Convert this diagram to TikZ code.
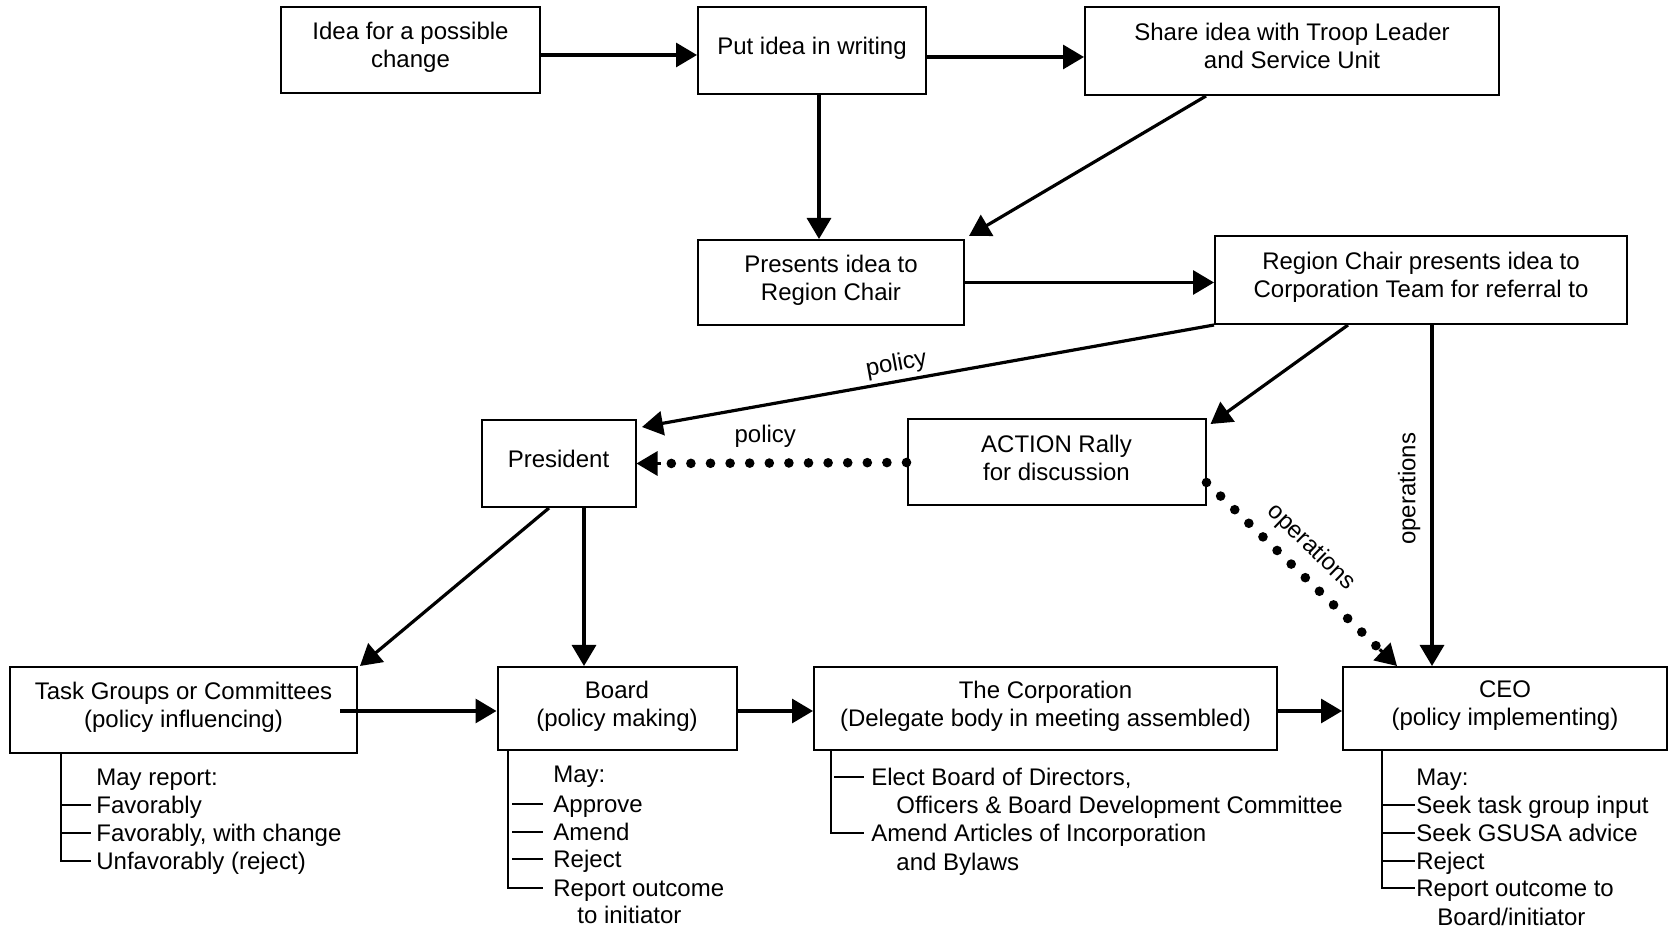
\documentclass[tikz,border=0pt]{standalone}
\usepackage{fontspec}
\setmainfont{Liberation Sans}
\usetikzlibrary{arrows.meta,calc}
\begin{document}
\begin{tikzpicture}[x=0.5pt,y=-0.5pt,
  box/.style={draw, line width=1pt, align=center, inner sep=2pt, text depth=5pt, font=\fontsize{12}{14}\selectfont},
  arr/.style={line width=1.6pt, -{Triangle[length=10.5pt,width=12pt]}},
  dotln/.style={line width=4.8pt, line cap=round, dash pattern=on 0pt off 9.8pt},
  lbl/.style={font=\fontsize{12}{14}\selectfont, inner sep=2pt},
  item/.style={font=\fontsize{12}{14}\selectfont, anchor=base west, inner sep=0pt},
  tree/.style={line width=1pt}
]
\useasboundingbox (0,0) rectangle (1670,929);

% boxes
\node[box, minimum width=129.5pt, minimum height=43pt] (idea) at (410.5,50) {Idea for a possible\\change};
\node[box, minimum width=114pt, minimum height=43.5pt] (write) at (812,50.5) {Put idea in writing};
\node[box, minimum width=207pt, minimum height=44pt] (share) at (1292,51) {Share idea with Troop Leader\\and Service Unit};
\node[box, minimum width=133pt, minimum height=42.5pt] (present) at (831,282.5) {Presents idea to\\Region Chair};
\node[box, minimum width=206pt, minimum height=44pt] (region) at (1421,280) {Region Chair presents idea to\\Corporation Team for referral to};
\node[box, minimum width=77pt, minimum height=43.5pt] (pres) at (558.5,463.5) {President};
\node[box, minimum width=149pt, minimum height=43pt] (action) at (1056.5,462.5) {ACTION Rally\\for discussion};
\node[box, minimum width=173.5pt, minimum height=43pt] (task) at (183.5,710) {Task Groups or Committees\\(policy influencing)};
\node[box, minimum width=119.5pt, minimum height=41.5pt] (board) at (617,708.5) {Board\\(policy making)};
\node[box, minimum width=231.5pt, minimum height=41.5pt] (corp) at (1045.5,708.5) {The Corporation\\(Delegate body in meeting assembled)};
\node[box, minimum width=162pt, minimum height=41.5pt] (ceo) at (1505,708.5) {CEO\\(policy implementing)};

% top connectors
\coordinate (a1) at ([yshift=-2.5pt]idea.east);
\draw[arr] (a1) -- (a1 -| write.west);
\coordinate (a2) at ([yshift=-3.25pt]write.east);
\draw[arr] (a2) -- (a2 -| share.west);
\draw[arr] (write.south -| 819,0) -- (present.north -| 819,0);
\draw[arr] (share.south -| 1206,0) -- ([xshift=2pt,yshift=1.5pt]present.north east);
\draw[arr] (present.east) -- (present.east -| region.west);

% from region chair
\draw[arr] (region.south west) -- node[lbl, pos=0.55, rotate=10.3, anchor=south] {policy} ([xshift=2.75pt,yshift=-4pt]pres.north east);
\draw[arr] (region.south -| 1348,0) -- ([xshift=2pt,yshift=-2.75pt]action.north east);
\draw[arr] (region.south -| 1432,0) -- node[lbl, pos=0.48, rotate=90, anchor=south, inner sep=5pt] {operations} (ceo.north -| 1432,0);

% dotted from action rally
\coordinate (d1) at ([xshift=12pt]pres.east);
\draw[dotln] (action.west) -- node[lbl, pos=0.574, anchor=south, yshift=3.5pt] {policy} (d1);
\draw[arr] (d1) -- (pres.east);
\coordinate (d2) at ([yshift=-10pt]action.east);
\coordinate (c2) at (ceo.north -| 1397,0);
\coordinate (d3) at ($(c2)!12pt!(d2)$);
\draw[dotln] (d2) -- node[lbl, pos=0.5, rotate=-44, anchor=south, inner sep=5pt] {operations} (d3);
\draw[arr] (d3) -- (c2);

% from president
\draw[arr] (pres.south -| 549,0) -- ([xshift=1pt]task.north east);
\draw[arr] (pres.south -| 584,0) -- (board.north -| 584,0);

% bottom row
\coordinate (b1) at ([xshift=-9pt,yshift=-0.5pt]task.east);
\draw[arr] (b1) -- (b1 -| board.west);
\coordinate (b2) at ([yshift=-1.25pt]board.east);
\draw[arr] (b2) -- (b2 -| corp.west);
\coordinate (b3) at ([yshift=-1.25pt]corp.east);
\draw[arr] (b3) -- (b3 -| ceo.west);

% task list
\node[item] (tl0) at (96,785) {May report:};
\node[item] (tl1) at (96,813) {Favorably};
\node[item] (tl2) at (96,841) {Favorably, with change};
\node[item] (tl3) at (96,869) {Unfavorably (reject)};
\draw[tree] (task.south -| 61,0) |- (91,861);
\draw[tree] (61,805) -- (91,805) (61,833) -- (91,833);

% board list
\node[item] (bl0) at (553,783) {May:};
\node[item] (bl1) at (553,812) {Approve};
\node[item] (bl2) at (553,840) {Amend};
\node[item] (bl3) at (553,867) {Reject};
\node[item] (bl4) at (553,896) {Report outcome};
\node[item] (bl5) at (577,923) {to initiator};
\draw[tree] (board.south -| 508,0) |- (543,888);
\draw[tree] (512,804) -- (543,804) (512,832) -- (543,832) (512,859) -- (543,859);

% corporation list
\node[item] (cl0) at (871,785) {Elect Board of Directors,};
\node[item] (cl1) at (896,813) {Officers \& Board Development Committee};
\node[item] (cl2) at (871,841) {Amend Articles of Incorporation};
\node[item] (cl3) at (896,870) {and Bylaws};
\draw[tree] (corp.south -| 831,0) |- (864,833);
\draw[tree] (834,777) -- (864,777);

% CEO list
\node[item] (el0) at (1416,785) {May:};
\node[item] (el1) at (1416,813) {Seek task group input};
\node[item] (el2) at (1416,841) {Seek GSUSA advice};
\node[item] (el3) at (1416,869) {Reject};
\node[item] (el4) at (1416,896) {Report outcome to};
\node[item] (el5) at (1437,925) {Board/initiator};
\draw[tree] (ceo.south -| 1382,0) |- (1415,888);
\draw[tree] (1382,805) -- (1415,805) (1382,833) -- (1415,833) (1382,861) -- (1415,861);
\end{tikzpicture}
\end{document}
